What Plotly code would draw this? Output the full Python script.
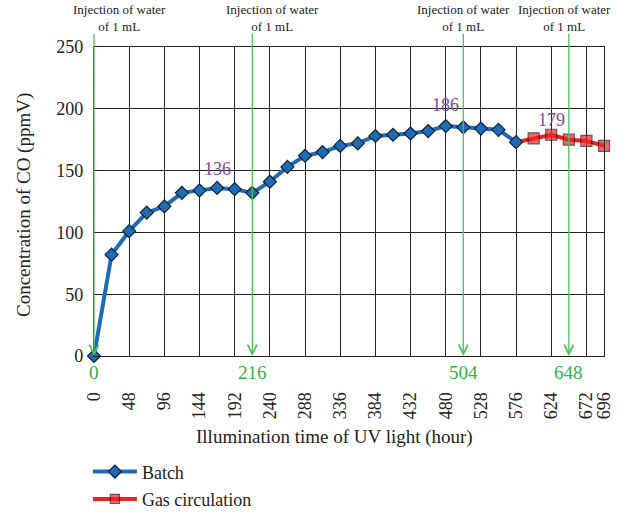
import plotly.graph_objects as go

# CO concentration under UV illumination
batch_hours = [0, 24, 48, 72, 96, 120, 144, 168, 192, 216, 240, 264, 288, 312,
               336, 360, 384, 408, 432, 456, 480, 504, 528, 552, 576]
batch_co = [0, 82, 101, 116, 121, 132, 134, 136, 135, 132, 141, 153, 162, 165,
            170, 172, 178, 179, 180, 182, 186, 185, 184, 183, 173]

# gas circulation continues from the last batch sample (576 h)
gas_hours = [576, 600, 624, 648, 672, 696]
gas_co = [173, 176, 179, 175, 174, 170]

x_ticks = [0, 48, 96, 144, 192, 240, 288, 336, 384, 432, 480, 528, 576, 624, 672, 696]
y_ticks = [0, 50, 100, 150, 200, 250]

injection_hours = [0, 216, 504, 648]
injection_text = "Injection of water<br>of 1 mL"
injection_text_x = [35, 244, 504, 642]

peak_hours = [168, 480, 624]
peak_values = [136, 186, 179]
peak_shift = [19, 21, 15]

FONT = "Liberation Serif"
GREEN = "#2fb34a"
GREEN_LINE = "#4cc35a"
PURPLE = "#7a4c9f"
BLUE = "#1f6bb4"
RED = "#ec2325"

fig = go.Figure()

fig.add_trace(go.Scatter(
    x=gas_hours, y=gas_co, name="Gas circulation", mode="lines+markers",
    line=dict(color=RED, width=4),
    marker=dict(symbol="square", size=[0] + [11] * (len(gas_hours) - 1),
                color=RED, line=dict(color="#3b0a0a", width=1.2)),
    cliponaxis=False, legendrank=2, legendgroup="g",
))
fig.add_trace(go.Scatter(
    x=batch_hours, y=batch_co, name="Batch", mode="lines+markers",
    line=dict(color=BLUE, width=4),
    marker=dict(symbol="diamond", size=10, color=BLUE,
                line=dict(color="#0f2238", width=1.2)),
    cliponaxis=False, legendrank=1, legendgroup="b",
))

annotations = []
for h, tx in zip(injection_hours, injection_text_x):
    # vertical green marker line ending in an arrow at the time axis
    annotations.append(dict(
        x=h, y=0, xref="x", yref="y", ax=h, ay=262, axref="x", ayref="y",
        text="", showarrow=True, arrowhead=5, arrowsize=1.4, arrowwidth=1.3,
        arrowcolor=GREEN_LINE, standoff=0,
    ))
    annotations.append(dict(
        x=h, y=0, xref="x", yref="paper", yanchor="top", yshift=-4,
        text=str(h), showarrow=False, font=dict(family=FONT, size=19, color=GREEN),
    ))
    annotations.append(dict(
        x=tx, y=1, xref="x", yref="paper", yanchor="bottom", yshift=11,
        text=injection_text, showarrow=False, align="center",
        font=dict(family=FONT, size=13, color="#222"),
    ))

for h, v, s in zip(peak_hours, peak_values, peak_shift):
    annotations.append(dict(
        x=h, y=v, xref="x", yref="y", yshift=s, text=str(v), showarrow=False,
        font=dict(family=FONT, size=18, color=PURPLE),
    ))

annotations.append(dict(
    x=334, y=437, xref="paper", yref="paper", xanchor="center", yanchor="middle",
    text="Illumination time of UV light (hour)",
    showarrow=False, font=dict(family=FONT, size=19, color="#222"),
))
annotations.append(dict(
    x=24, y=205, xref="paper", yref="paper", xanchor="center", yanchor="middle",
    text="Concentration of CO (ppmV)",
    textangle=-90, showarrow=False, font=dict(family=FONT, size=19, color="#222"),
))

# convert the pixel-placed titles to paper coordinates
W, H = 622, 516
L, R, T, B = 94, 18, 47, 160
for a in annotations[-2:]:
    a["x"] = (a["x"] - L) / (W - L - R)
    a["y"] = (H - B - a["y"]) / (H - T - B)

fig.update_layout(
    width=W, height=H,
    margin=dict(l=L, r=R, t=T, b=B, autoexpand=False),
    paper_bgcolor="white", plot_bgcolor="white",
    font=dict(family=FONT, size=18, color="#222"),
    annotations=annotations,
    showlegend=True,
    legend=dict(x=-0.012, y=-0.315, xanchor="left", yanchor="top",
                font=dict(family=FONT, size=18, color="#222"),
                itemwidth=44, tracegroupgap=1, bgcolor="rgba(0,0,0,0)"),
    xaxis=dict(
        range=[0, 696], tickmode="array", tickvals=x_ticks,
        ticktext=[str(t) for t in x_ticks], tickangle=-90,
        ticks="outside", ticklen=28, tickcolor="rgba(0,0,0,0)",
        showgrid=True, gridcolor="#222", gridwidth=1.3,
        showline=True, linecolor="#222", linewidth=1.3, mirror=True,
        zeroline=False, tickfont=dict(family=FONT, size=18, color="#222"),
    ),
    yaxis=dict(
        range=[0, 250], tickmode="array", tickvals=y_ticks,
        ticks="outside", ticklen=6, tickcolor="rgba(0,0,0,0)",
        showgrid=True, gridcolor="#222", gridwidth=1.3,
        showline=True, linecolor="#222", linewidth=1.3, mirror=True,
        zeroline=False, tickfont=dict(family=FONT, size=18, color="#222"),
    ),
)

fig.write_html("out.html")
